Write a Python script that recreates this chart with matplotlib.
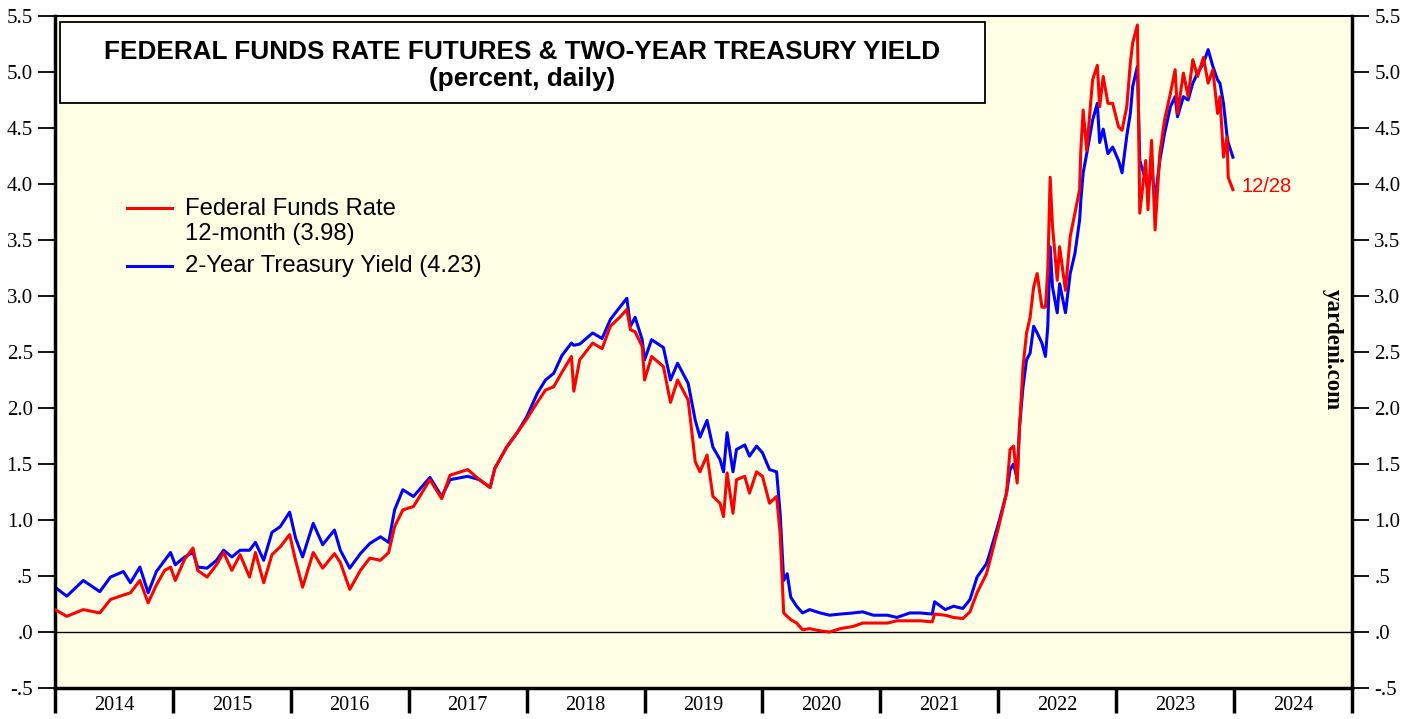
import matplotlib
matplotlib.use("Agg")
from matplotlib import pyplot as plt
from matplotlib.lines import Line2D
from matplotlib.patches import Rectangle

# decimal year of each reading
t = [2014.00, 2014.10, 2014.24, 2014.38, 2014.47, 2014.58, 2014.64, 2014.72, 2014.79, 2014.86,
     2014.93, 2014.98, 2015.02, 2015.10, 2015.17, 2015.21, 2015.29, 2015.37, 2015.43, 2015.50,
     2015.57, 2015.65, 2015.70, 2015.77, 2015.84, 2015.91, 2015.99, 2016.04, 2016.10, 2016.19,
     2016.27, 2016.37, 2016.42, 2016.50, 2016.59, 2016.67, 2016.76, 2016.83, 2016.88, 2016.95,
     2017.04, 2017.18, 2017.28, 2017.35, 2017.50, 2017.60, 2017.69, 2017.73, 2017.83, 2017.92,
     2018.00, 2018.09, 2018.16, 2018.23, 2018.30, 2018.38, 2018.40, 2018.45, 2018.56, 2018.64,
     2018.71, 2018.79, 2018.85, 2018.88, 2018.92, 2018.98, 2019.00, 2019.06, 2019.16, 2019.22,
     2019.28, 2019.37, 2019.43, 2019.47, 2019.53, 2019.58, 2019.64, 2019.67, 2019.70, 2019.75,
     2019.78, 2019.85, 2019.89, 2019.95, 2020.00, 2020.06, 2020.12, 2020.15, 2020.18, 2020.21,
     2020.24, 2020.29, 2020.34, 2020.40, 2020.49, 2020.57, 2020.66, 2020.77, 2020.85, 2020.94,
     2021.06, 2021.14, 2021.25, 2021.34, 2021.44, 2021.46, 2021.55, 2021.62, 2021.70, 2021.76,
     2021.82, 2021.90, 2021.93, 2022.01, 2022.07, 2022.10, 2022.13, 2022.16, 2022.18, 2022.21,
     2022.24, 2022.27, 2022.30, 2022.33, 2022.37, 2022.40, 2022.42, 2022.44, 2022.46, 2022.50,
     2022.52, 2022.57, 2022.61, 2022.65, 2022.69, 2022.70, 2022.72, 2022.75, 2022.80, 2022.84,
     2022.86, 2022.89, 2022.93, 2022.97, 2023.02, 2023.05, 2023.09, 2023.12, 2023.14, 2023.18,
     2023.20, 2023.25, 2023.27, 2023.30, 2023.33, 2023.37, 2023.41, 2023.46, 2023.50, 2023.52,
     2023.57, 2023.61, 2023.65, 2023.69, 2023.74, 2023.78, 2023.82, 2023.86, 2023.88, 2023.91,
     2023.94, 2023.95, 2023.99]

# Federal funds rate, 12-month futures
ffr = [0.20, 0.14, 0.20, 0.17, 0.29, 0.33, 0.35, 0.46, 0.26, 0.42,
       0.55, 0.58, 0.46, 0.65, 0.75, 0.55, 0.49, 0.60, 0.71, 0.55,
       0.69, 0.49, 0.71, 0.44, 0.69, 0.76, 0.87, 0.64, 0.40, 0.71,
       0.57, 0.70, 0.62, 0.38, 0.55, 0.66, 0.64, 0.71, 0.94, 1.09,
       1.12, 1.36, 1.19, 1.40, 1.45, 1.36, 1.29, 1.46, 1.65, 1.78,
       1.90, 2.05, 2.16, 2.19, 2.32, 2.46, 2.15, 2.43, 2.58, 2.53,
       2.73, 2.81, 2.88, 2.70, 2.68, 2.55, 2.25, 2.46, 2.37, 2.05,
       2.25, 2.07, 1.52, 1.43, 1.58, 1.21, 1.15, 1.03, 1.42, 1.06,
       1.36, 1.39, 1.24, 1.43, 1.39, 1.15, 1.21, 0.88, 0.17, 0.14,
       0.11, 0.08, 0.02, 0.03, 0.01, 0.00, 0.03, 0.05, 0.08, 0.08,
       0.08, 0.10, 0.10, 0.10, 0.09, 0.16, 0.15, 0.13, 0.12, 0.18,
       0.35, 0.52, 0.64, 0.97, 1.24, 1.63, 1.66, 1.33, 1.83, 2.37,
       2.67, 2.81, 3.08, 3.20, 2.90, 2.90, 3.23, 4.06, 3.62, 3.14,
       3.44, 3.05, 3.53, 3.74, 3.95, 4.30, 4.66, 4.30, 4.93, 5.06,
       4.69, 4.96, 4.72, 4.72, 4.51, 4.48, 4.69, 5.08, 5.26, 5.42,
       3.74, 4.21, 3.77, 4.39, 3.59, 4.27, 4.57, 4.81, 5.02, 4.63,
       4.99, 4.78, 5.11, 4.96, 5.13, 4.90, 5.02, 4.63, 4.78, 4.24,
       4.42, 4.06, 3.95]

# 2-year Treasury yield
ust2 = [0.40, 0.32, 0.46, 0.36, 0.49, 0.54, 0.44, 0.58, 0.35, 0.54,
        0.64, 0.71, 0.60, 0.67, 0.71, 0.58, 0.57, 0.64, 0.73, 0.67,
        0.73, 0.73, 0.80, 0.64, 0.89, 0.94, 1.07, 0.84, 0.67, 0.97,
        0.78, 0.91, 0.73, 0.57, 0.70, 0.79, 0.85, 0.80, 1.09, 1.27,
        1.21, 1.38, 1.21, 1.36, 1.39, 1.36, 1.29, 1.46, 1.65, 1.78,
        1.92, 2.13, 2.25, 2.31, 2.47, 2.58, 2.56, 2.57, 2.67, 2.62,
        2.79, 2.90, 2.98, 2.73, 2.81, 2.61, 2.43, 2.61, 2.54, 2.25,
        2.40, 2.22, 1.89, 1.74, 1.89, 1.65, 1.54, 1.43, 1.78, 1.43,
        1.63, 1.67, 1.57, 1.66, 1.60, 1.45, 1.43, 1.06, 0.46, 0.52,
        0.31, 0.23, 0.17, 0.20, 0.17, 0.15, 0.16, 0.17, 0.18, 0.15,
        0.15, 0.13, 0.17, 0.17, 0.16, 0.27, 0.20, 0.23, 0.21, 0.29,
        0.49, 0.61, 0.71, 1.00, 1.24, 1.45, 1.50, 1.37, 1.83, 2.19,
        2.43, 2.49, 2.73, 2.67, 2.58, 2.46, 2.73, 3.44, 3.08, 2.85,
        3.11, 2.85, 3.20, 3.38, 3.68, 3.85, 4.10, 4.27, 4.57, 4.72,
        4.37, 4.49, 4.27, 4.33, 4.21, 4.10, 4.43, 4.63, 4.87, 5.05,
        4.21, 4.04, 3.95, 4.15, 3.86, 4.21, 4.45, 4.69, 4.78, 4.60,
        4.78, 4.75, 4.90, 4.99, 5.08, 5.20, 5.05, 4.93, 4.90, 4.72,
        4.43, 4.37, 4.24]

years = list(range(2014, 2025))
yticks = [-0.5, 0.0, 0.5, 1.0, 1.5, 2.0, 2.5, 3.0, 3.5, 4.0, 4.5, 5.0, 5.5]


def fmt(v):
    s = f"{v:.1f}"
    return s.replace("0.", ".", 1) if abs(v) < 1 else s


serif = "Liberation Serif"
sans = "Liberation Sans"

fig = plt.figure(figsize=(14.16, 7.19), dpi=100)
ax = fig.add_axes([55 / 1416, 1 - 688 / 719, 1297 / 1416, 672 / 719])
ax.set_facecolor("#FFFFE6")

ax.axhline(0, color="black", lw=1.0, zorder=1)
ax.plot(t, ust2, color="#0000FF", lw=2.2, zorder=2)
ax.plot(t, ffr, color="#FF0000", lw=2.2, zorder=3)

ax.set_xlim(2014, 2025)
ax.set_ylim(-0.5, 5.5)

# y axis on both sides
ax.set_yticks(yticks)
ax.set_yticklabels([fmt(v) for v in yticks], fontfamily=serif, fontsize=15)
ax.tick_params(axis="y", which="both", direction="out", length=12, width=1.3,
               left=True, right=True, labelleft=True, labelright=True, pad=4)

# year boundaries as ticks, labels centered in each year
ax.set_xticks(years + [2025])
ax.set_xticklabels([])
ax.set_xticks([y + 0.5 for y in years], minor=True)
ax.set_xticklabels([str(y) for y in years], minor=True, fontfamily=serif, fontsize=14.5)
ax.tick_params(axis="x", which="major", direction="out", length=18, width=2.5)
ax.tick_params(axis="x", which="minor", length=0, pad=6)

for side in ["left", "bottom", "right"]:
    ax.spines[side].set_linewidth(2.5)
ax.spines["top"].set_linewidth(1.5)

# title box
ax.add_patch(Rectangle((0.004, 0.8705), 0.713, 0.1205, transform=ax.transAxes,
                       facecolor="white", edgecolor="black", lw=1.3, zorder=5))
ax.text(0.360, 0.947, "FEDERAL FUNDS RATE FUTURES & TWO-YEAR TREASURY YIELD",
        transform=ax.transAxes, ha="center", va="center", fontsize=18.8,
        fontweight="bold", fontfamily=sans, zorder=6)
ax.text(0.360, 0.906, "(percent, daily)", transform=ax.transAxes, ha="center",
        va="center", fontsize=18.8, fontweight="bold", fontfamily=sans, zorder=6)

# legend
ax.add_line(Line2D([0.0555, 0.0902], [0.714, 0.714], color="#FF0000", lw=2.2,
                   transform=ax.transAxes))
ax.add_line(Line2D([0.0555, 0.0902], [0.628, 0.628], color="#0000FF", lw=2.2,
                   transform=ax.transAxes))
ax.text(0.1002, 0.713, "Federal Funds Rate", transform=ax.transAxes, va="center",
        fontsize=17.2, fontfamily=sans)
ax.text(0.1002, 0.675, "12-month (3.98)", transform=ax.transAxes, va="center",
        fontsize=17.2, fontfamily=sans)
ax.text(0.1002, 0.628, "2-Year Treasury Yield (4.23)", transform=ax.transAxes,
        va="center", fontsize=17.2, fontfamily=sans)

ax.annotate("12/28", xy=(t[-1], ffr[-1]), xytext=(6, 2), textcoords="offset points",
            color="#FF0000", fontsize=14.5, fontfamily=sans, va="center", ha="left")

ax.text(0.985, 0.503, "yardeni.com", transform=ax.transAxes, rotation=-90,
        ha="center", va="center", fontsize=16.5, fontweight="bold", fontfamily=serif)

fig.savefig("out.png", dpi=100, facecolor="white")
